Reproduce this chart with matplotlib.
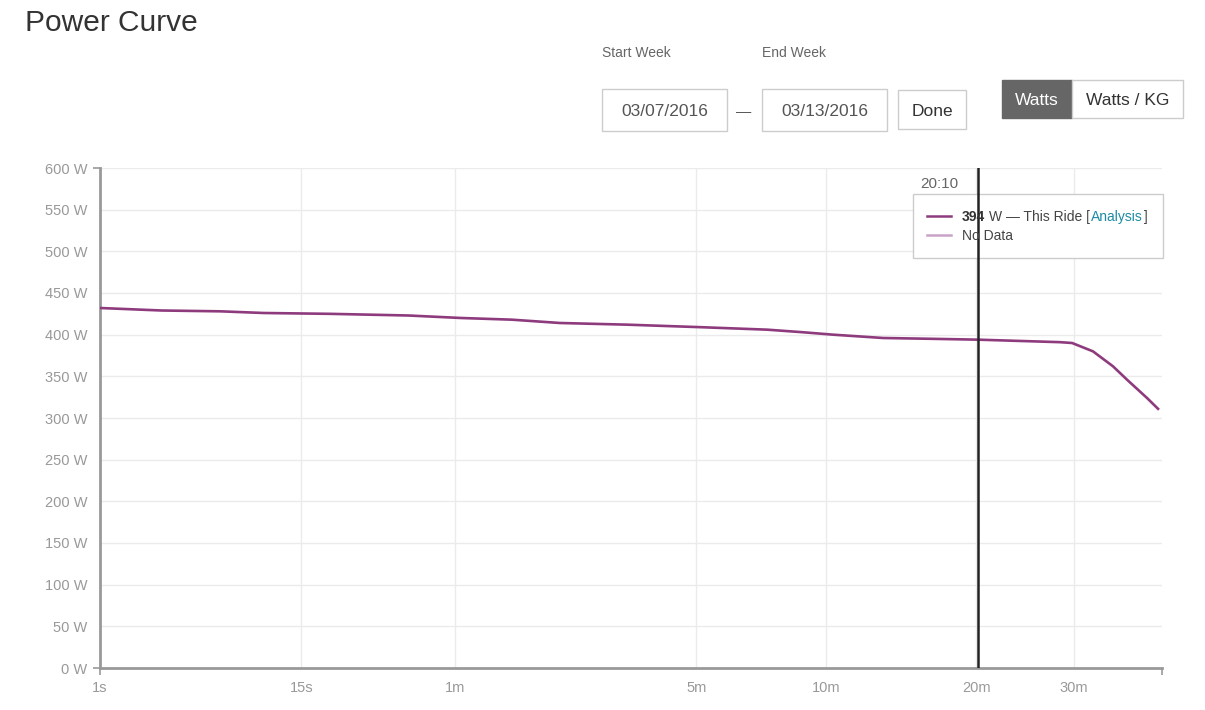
import matplotlib
matplotlib.use("Agg")
import matplotlib.pyplot as plt
from matplotlib.patches import Rectangle
import numpy as np

plt.rcParams['font.family'] = ['Liberation Sans', 'DejaVu Sans']

# power curve of the ride: duration (s) -> best average power (W)
durations = [1, 2.7, 6, 10, 20, 41, 63, 92, 129, 199, 307, 443, 530, 620, 700, 789, 992,
             1210, 1703, 1788, 1942, 2100, 2216, 2391, 2492]
watts = [432, 429, 428, 426, 425, 423, 420, 418, 414, 412, 409, 406, 403, 400, 398, 396, 395,
         394, 391, 390, 380, 362, 346, 324, 311]

x_ticks = [1, 15, 60, 300, 600, 1200, 1800]
x_labels = ["1s", "15s", "1m", "5m", "10m", "20m", "30m"]
y_ticks = list(range(0, 601, 50))
y_labels = ["%d W" % v for v in y_ticks]
x_max = 2529

cursor_time = 1210
cursor_label = "20:10"
cursor_watts = 394

W, H = 1205, 710
LINE = "#8e3b7e"
GREY = "#999999"


def fx(x):
    return x / W


def fy(y):
    return 1 - y / H


fig = plt.figure(figsize=(W / 100, H / 100), dpi=100)
ax = fig.add_axes([fx(100), fy(668), fx(1162 - 100), (668 - 168) / H])

ax.set_xscale('function', functions=(lambda v: np.power(np.abs(v), 0.2),
                                     lambda v: np.power(np.abs(v), 5)))
ax.set_xlim(1, x_max)
ax.set_ylim(0, 600)

ax.plot(durations, watts, color=LINE, lw=1.9, zorder=3, solid_joinstyle='round')

ax.set_xticks(x_ticks)
ax.set_xticklabels(x_labels)
ax.set_yticks(y_ticks)
ax.set_yticklabels(y_labels)
ax.tick_params(axis='both', which='major', length=0, labelsize=10.5, labelcolor=GREY)
ax.tick_params(axis='x', pad=9)
ax.tick_params(axis='y', pad=9)

# outer ticks at domain ends
ax.xaxis.remove_overlapping_locs = False
ax.yaxis.remove_overlapping_locs = False
ax.set_xticks([1, x_max], minor=True)
ax.set_yticks([0, 600], minor=True)
ax.tick_params(which='minor', length=5, width=1.2, color=GREY)

for t in x_ticks[1:]:
    ax.axvline(t, color="#ebebeb", lw=1, zorder=1)
for t in y_ticks[1:]:
    ax.axhline(t, color="#ebebeb", lw=1, zorder=1)

for s in ['top', 'right']:
    ax.spines[s].set_visible(False)
for s in ['left', 'bottom']:
    ax.spines[s].set_color(GREY)
    ax.spines[s].set_linewidth(2)

# cursor
ax.axvline(cursor_time, color="#222222", lw=1.8, zorder=6)
ax.text(fx(958), fy(184), cursor_label, transform=fig.transFigure, ha='right',
        va='center', fontsize=11, color="#666666")

# tooltip
tf = fig.transFigure
ax.add_patch(Rectangle((fx(913), fy(258)), fx(250), 64 / H, transform=tf,
                       facecolor='white', edgecolor='#cccccc', lw=1,
                       clip_on=False, zorder=5))
ax.plot([fx(927), fx(951)], [fy(216), fy(216)], transform=tf, color=LINE, lw=1.8,
        clip_on=False, zorder=7)
ax.plot([fx(927), fx(951)], [fy(235), fy(235)], transform=tf, color="#c9a3c7", lw=1.8,
        clip_on=False, zorder=7)

renderer = fig.canvas.get_renderer()
parts = [("%d" % cursor_watts, 'bold', "#333333", 4),
         ("W \u2014 This Ride [", 'normal', "#444444", 1),
         ("Analysis", 'normal', "#1a8ca3", 1),
         ("]", 'normal', "#444444", 0)]
xpos = 962
for txt, wt, col, gap in parts:
    t = ax.text(fx(xpos), fy(217), txt, transform=tf, fontsize=10, fontweight=wt,
                color=col, va='center', ha='left', zorder=8)
    xpos += t.get_window_extent(renderer).width + gap
ax.text(fx(962), fy(236), "No Data", transform=tf, fontsize=10, color="#444444",
        va='center', ha='left', zorder=8)

# header controls
fig.text(fx(25), fy(23), "Power Curve", fontsize=21.5, color="#333333", va='center')
fig.text(fx(602), fy(53), "Start Week", fontsize=10, color="#666666", va='center')
fig.text(fx(762), fy(53), "End Week", fontsize=10, color="#666666", va='center')


def box(x0, y0, x1, y1, label, face='white', edge='#cccccc', tc="#444444"):
    fig.add_artist(Rectangle((fx(x0), fy(y1)), fx(x1 - x0), (y1 - y0) / H,
                             transform=fig.transFigure, facecolor=face,
                             edgecolor=edge, lw=1))
    fig.text(fx((x0 + x1) / 2), fy((y0 + y1) / 2 + 1.5), label, fontsize=12.5, color=tc,
             ha='center', va='center')


box(602, 89, 727, 131, "03/07/2016", tc="#555555")
fig.text(fx(744), fy(112), "\u2014", fontsize=11, color="#555555", ha='center', va='center')
box(762, 89, 887, 131, "03/13/2016", tc="#555555")
box(898, 90, 966, 129, "Done", tc="#333333")
box(1002, 80, 1072, 118, "Watts", face="#666666", edge="#666666", tc="white")
box(1072, 80, 1183, 118, "Watts / KG", tc="#333333")

fig.savefig("out.png", dpi=100)
